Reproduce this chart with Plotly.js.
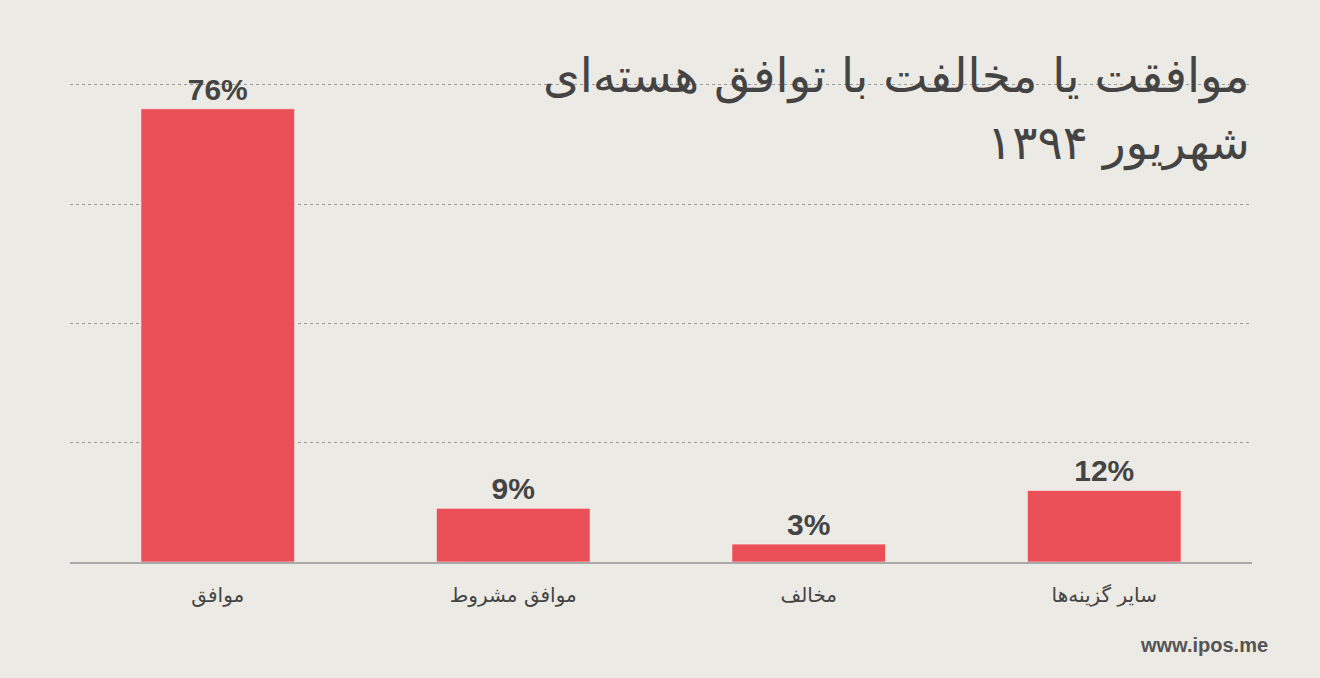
<!DOCTYPE html>
<html><head><meta charset="utf-8">
<script src="https://cdn.plot.ly/plotly-3.0.1.min.js"></script>
<style>html,body{margin:0;padding:0;background:#ECEAE4;}#c{width:1320px;height:678px;}</style>
</head><body><div id="c"></div>
<script>
const categories = ["موافق", "موافق مشروط", "مخالف", "سایر گزینه‌ها"];
const values = [76, 9, 3, 12];
const valueLabels = ["76%", "9%", "3%", "12%"];
const titleLine1 = "موافقت یا مخالفت با توافق هسته‌ای";
const titleLine2 = "شهریور ۱۳۹۴";
const sourceText = "www.ipos.me";

const trace = {
  type: 'bar', x: categories, y: values, text: valueLabels,
  textposition: 'outside', cliponaxis: false,
  textfont: {family: 'Liberation Sans, Arial, sans-serif', size: 30, color: '#444', weight: 'bold'},
  marker: {color: '#EB4F58', line: {color: 'rgba(255,255,255,0.55)', width: 1}},
  hoverinfo: 'none'
};
const TOP = 73, BOT = 116;
const layout = {
  width: 1320, height: 678,
  paper_bgcolor: '#ECEAE4', plot_bgcolor: '#ECEAE4',
  margin: {l: 70, r: 68, t: TOP, b: BOT},
  bargap: 0.48, showlegend: false,
  xaxis: {tickfont: {family: 'DejaVu Sans, sans-serif', size: 20, color: '#444'},
          showline: true, linecolor: '#AAAAAA', linewidth: 1.5, ticks: '', ticklabelstandoff: 14, fixedrange: true},
  yaxis: {range: [0, 82], tickvals: [20, 40, 60, 80], showticklabels: false,
          showgrid: true, gridcolor: '#9A9A9A', griddash: 'dot', gridwidth: 1,
          zeroline: false, fixedrange: true},
  annotations: [
    {text: titleLine1, xref: 'paper', yref: 'paper', xanchor: 'right', yanchor: 'middle',
     showarrow: false, font: {family: 'DejaVu Sans, sans-serif', size: 47, color: '#444'}},
    {text: titleLine2, xref: 'paper', yref: 'paper', xanchor: 'right', yanchor: 'middle',
     showarrow: false, font: {family: 'DejaVu Sans, sans-serif', size: 47, color: '#444'}},
    {text: '<b>' + sourceText + '</b>', xref: 'paper', yref: 'paper', xanchor: 'right', yanchor: 'middle',
     showarrow: false, font: {family: 'Liberation Sans, Arial, sans-serif', size: 20, color: '#555'}}
  ]
};
const plotH = 678 - TOP - BOT, plotW = 1320 - 70 - 68;
function py(p){ return (562 - p) / plotH; }
function px(p){ return (p - 70) / plotW; }
layout.annotations[0].x = px(1252); layout.annotations[0].y = py(76);
layout.annotations[1].x = px(1252); layout.annotations[1].y = py(143);
layout.annotations[2].x = px(1270); layout.annotations[2].y = py(645);
Plotly.newPlot('c', [trace], layout, {displayModeBar: false, staticPlot: true});
</script></body></html>
